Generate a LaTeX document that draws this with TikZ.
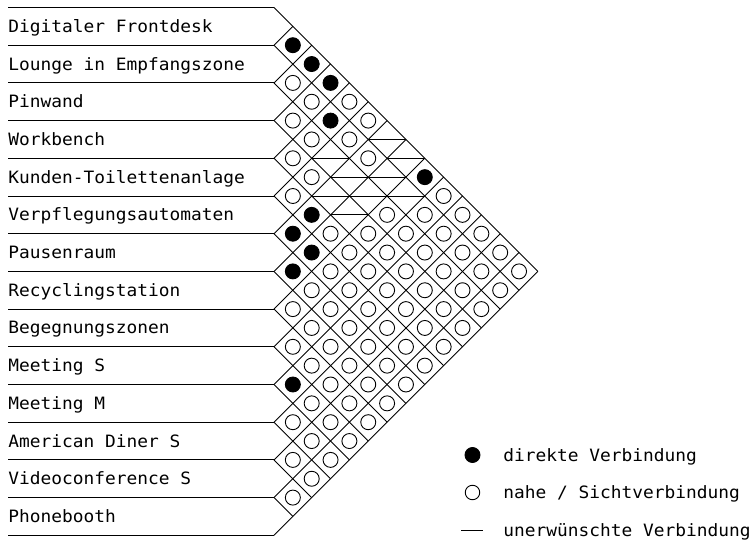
\documentclass[tikz,border=0pt]{standalone}
\usepackage{fontspec}
\setmonofont[FakeStretch=1.05]{DejaVu Sans Mono}
\foreach \p in {0-1,0-2,0-3,1-4,0-8,4-6,5-6,5-7,6-7,9-10}{\expandafter\gdef\csname cF\p\endcsname{}}
\foreach \p in {0-6,2-5,0-7,2-6,1-7,3-6,2-7,1-8,3-7}{\expandafter\gdef\csname cU\p\endcsname{}}
\begin{document}
\begin{tikzpicture}[x=1pt,y=-1pt,line width=0.9pt,
  lbl/.style={anchor=base west,inner sep=0pt,font=\fontsize{17}{20}\selectfont\ttfamily},
  openc/.style={circle,draw,fill=white,minimum size=15pt,inner sep=0pt},
  fillc/.style={circle,draw,fill=black,minimum size=15pt,inner sep=0pt},
  gridline/.style={line width=0.9pt}]
\useasboundingbox (0,0) rectangle (756,540);
\def\xo{274}\def\yo{7.5}\def\hh{18.85}
% row boundary lines and diagonals
\foreach \k in {0,...,14}{
  \pgfmathsetmacro\yk{\yo+2*\k*\hh}
  \coordinate (s\k) at (8,\yk);
  \coordinate (b\k) at (\xo,\yk);
  \draw[gridline] (s\k) -- (b\k);
}
\foreach \k in {0,...,13}{
  \pgfmathsetmacro\ex{\xo+(14-\k)*\hh}
  \pgfmathsetmacro\ey{\yo+(14+\k)*\hh}
  \coordinate (d\k) at (\ex,\ey);
  \draw[gridline] (b\k) -- (d\k);
}
\foreach \k in {1,...,14}{
  \pgfmathsetmacro\ex{\xo+\k*\hh}
  \pgfmathsetmacro\ey{\yo+\k*\hh}
  \coordinate (u\k) at (\ex,\ey);
  \draw[gridline] (b\k) -- (u\k);
}
% labels
\foreach \t [count=\n from 0] in {Digitaler Frontdesk,Lounge in Empfangszone,Pinwand,Workbench,Kunden-Toilettenanlage,Verpflegungsautomaten,Pausenraum,Recyclingstation,Begegnungszonen,Meeting S,Meeting M,American Diner S,Videoconference S,Phonebooth}{
  \pgfmathsetmacro\ly{\yo+(2*\n+1)*\hh+6}
  \node[lbl] (l\n) at (8,\ly) {\t};
}
% cells
\foreach \i in {0,...,12}{
  \pgfmathtruncatemacro\js{\i+1}
  \foreach \j in {\js,...,13}{
    \pgfmathsetmacro\cx{\xo+(\j-\i)*\hh}
    \pgfmathsetmacro\cy{\yo+(\i+\j+1)*\hh}
    \ifcsname cF\i-\j\endcsname
      \node[fillc] (c\i-\j) at (\cx,\cy) {};
    \else\ifcsname cU\i-\j\endcsname
      \coordinate (c\i-\j) at (\cx,\cy);
      \draw[gridline] ([xshift=-\hh pt]c\i-\j) -- ([xshift=\hh pt]c\i-\j);
    \else
      \node[openc] (c\i-\j) at (\cx,\cy) {};
    \fi\fi
  }
}
% legend
\node[fillc] (lgf) at (472.5,455) {};
\node[lbl] (lgft) at (503,461) {direkte Verbindung};
\node[openc,minimum size=14.5pt] (lgo) at (472.5,492.5) {};
\node[lbl] (lgot) at (503,498.5) {nahe / Sichtverbindung};
\coordinate (lga) at (461,530);
\coordinate (lgb) at (483,530);
\draw[gridline] (lga) -- (lgb);
\node[lbl] (lgut) at (503,536) {unerwünschte Verbindung};
\end{tikzpicture}
\end{document}
